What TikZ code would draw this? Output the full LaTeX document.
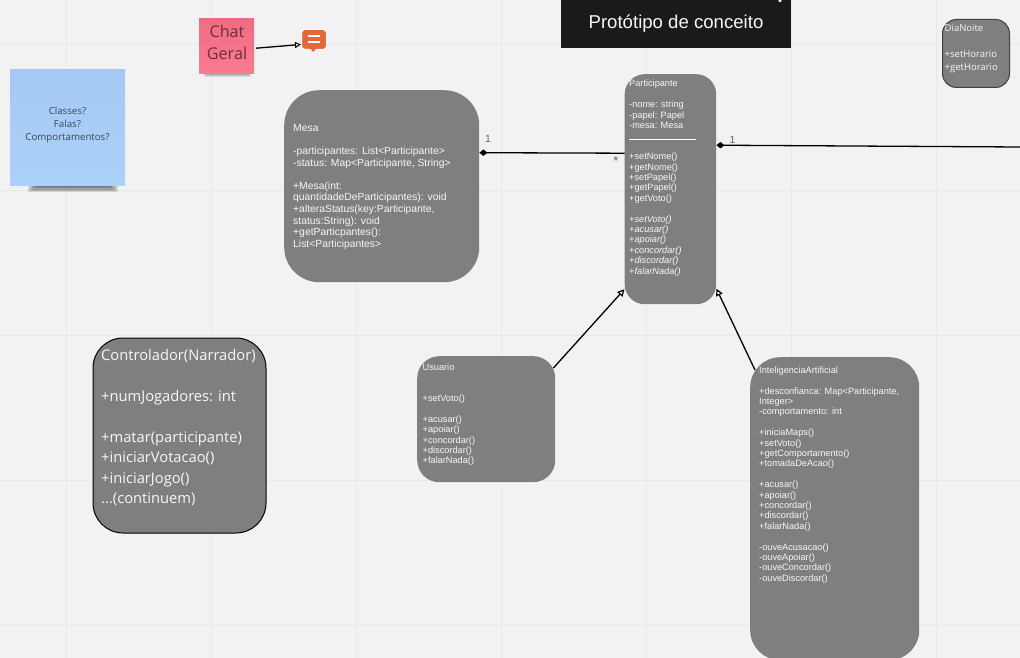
\documentclass[tikz,border=0pt]{standalone}
\usepackage{fontspec}
\setmainfont{Liberation Sans}
\newfontfamily\opensans{Open Sans}
\usetikzlibrary{arrows.meta}
\definecolor{bgc}{HTML}{F2F2F2}
\definecolor{gridc}{HTML}{E8E8E8}
\definecolor{boxc}{HTML}{7F7F7F}
\definecolor{txtc}{HTML}{F7F7F7}
\definecolor{titlec}{HTML}{1A1A1A}
\definecolor{orangec}{HTML}{E5673C}
\definecolor{bluetop}{HTML}{A4CAF4}
\definecolor{bluebot}{HTML}{ACD1F9}
\definecolor{pinktop}{HTML}{EE6C84}
\definecolor{pinkbot}{HTML}{FB7B91}
\definecolor{bluetxt}{HTML}{3A4656}
\definecolor{pinktxt}{HTML}{6E2E3C}
\tikzset{
  x=1pt,y=-1pt,
  umlbox/.style={draw=none,fill=boxc,anchor=north west,inner sep=0pt},
  umltext/.style={anchor=north west,inner sep=0pt,align=left,text=txtc,font=\fontsize{9.2}{10.4}\selectfont},
  mesatext/.style={umltext,font=\fontsize{10.35}{11.6}\selectfont},
  conn/.style={draw=black,line width=1.3pt},
  mult/.style={inner sep=0pt,text=black!60,font=\fontsize{10.5}{12}\selectfont},
  inherit/.style={conn,-{Triangle[fill=white,length=7pt,width=7pt,line width=1.2pt]}},
  assoc/.style={conn,{Diamond[length=8pt,width=6.5pt]}-},
  grid line/.style={draw=gridc,line width=1pt},
}
\begin{document}
\begin{tikzpicture}
\path[use as bounding box,clip] (0,0) rectangle (1020,658);
\fill[bgc] (0,0) rectangle (1020,658);
\foreach \gx in {66,211,356,501,646,791,936} \draw[grid line] (\gx,0) -- (\gx,658);
\foreach \gy in {45,190,335,480,625} \draw[grid line] (0,\gy) -- (1020,\gy);

% title
\node[fill=titlec,anchor=north west,minimum width=230pt,minimum height=48pt,inner sep=0pt] (title) at (561,0) {};
\node[text=txtc,inner sep=0pt,font=\fontsize{18.6}{20}\selectfont] (titletext) at (676,23.5) {Protótipo de conceito};
\fill[white] (780,0) ellipse (1.6 and 2.2);

% sticky shadows
\foreach \k in {0,1,...,5} {
  \fill[black,opacity=0.13] (28+2*\k,182) rectangle (118-2*\k,192-\k*1.2);
  \fill[black,opacity=0.10] (204+\k,70) rectangle (251-\k,77-\k);
}
% blue sticky
\node[anchor=north west,minimum width=115pt,minimum height=116pt,inner sep=0pt,top color=bluetop,bottom color=bluebot] (blue) at (10,69) {};
\node[inner sep=0pt,align=center,text=bluetxt,font=\opensans\fontsize{9.7}{13.4}\selectfont] (bluetext) at (67.5,125) {Classes?\\Falas?\\Comportamentos?};

% pink sticky
\node[anchor=north west,minimum width=55pt,minimum height=55pt,inner sep=0pt,top color=pinktop,bottom color=pinkbot] (chat) at (199,18) {};
\node[inner sep=0pt,align=center,text=pinktxt,font=\opensans\fontsize{16.2}{22}\selectfont] (chattext) at (227,42.5) {Chat\\Geral};

% icon
\node[anchor=north west,fill=orangec,draw=white,line width=1pt,rounded corners=3.5pt,minimum width=25pt,minimum height=20pt,inner sep=0pt] (icon) at (301,29) {};
\fill[orangec] (310,48) -- (316.5,48) -- (313.2,52) -- cycle;
\draw[white,line width=1.6pt] (307.5,36) -- (319.5,36);
\draw[white,line width=1.6pt] (307.5,42) -- (319.5,42);

% boxes
\node[umlbox,rounded corners=35pt,minimum width=195pt,minimum height=192pt] (mesa) at (284,90) {};
\node[umlbox,rounded corners=20pt,minimum width=91.5pt,minimum height=230pt] (part) at (624.5,74) {};
\node[umlbox,rounded corners=22pt,minimum width=138pt,minimum height=126pt] (usu) at (417,356) {};
\node[umlbox,rounded corners=30pt,minimum width=169pt,minimum height=303pt] (ia) at (750,357) {};
\node[umlbox,draw=black,line width=1pt,rounded corners=30pt,minimum width=173pt,minimum height=195pt] (ctrl) at (92.5,337.5) {};
\node[umlbox,draw=black!75,line width=1pt,rounded corners=14pt,minimum width=67pt,minimum height=68pt] (dia) at (942,19) {};

% texts
\node[mesatext] (mesatxt) at (293,124) {Mesa\\ \mbox{}\\-participantes: List<Participante>\\-status: Map<Participante, String>\\ \mbox{}\\+Mesa(int:\\quantidadeDeParticipantes): void\\+alteraStatus(key:Participante,\\status:String): void\\+getParticpantes():\\List<Participantes>};
\node[umltext] (parttxt) at (629,80) {Participante\\ \mbox{}\\-nome: string\\-papel: Papel\\-mesa: Mesa\\ \mbox{}\\ \mbox{}\\+setNome()\\+getNome()\\+setPapel()\\+getPapel()\\+getVoto()\\ \mbox{}\\\textit{+setVoto()}\\\textit{+acusar()}\\\textit{+apoiar()}\\\textit{+concordar()}\\\textit{+discordar()}\\\textit{+falarNada()}};
\draw[white,line width=0.9pt] ([shift={(4.5pt,-65.5pt)}]part.north west) -- ([shift={(71.5pt,-65.5pt)}]part.north west);
\node[umltext] (usutxt) at (422.5,363.5) {Usuario\\ \mbox{}\\ \mbox{}\\+setVoto()\\ \mbox{}\\+acusar()\\+apoiar()\\+concordar()\\+discordar()\\+falarNada()};
\node[umltext] (iatxt) at (759,366.5) {InteligenciaArtificial\\ \mbox{}\\+desconfianca: Map<Participante,\\Integer>\\-comportamento: int\\ \mbox{}\\+iniciaMaps()\\+setVoto()\\+getComportamento()\\+tomadaDeAcao()\\ \mbox{}\\+acusar()\\+apoiar()\\+concordar()\\+discordar()\\+falarNada()\\ \mbox{}\\-ouveAcusacao()\\-ouveApoiar()\\-ouveConcordar()\\-ouveDiscordar()};
\node[umltext,font=\opensans\fontsize{14.7}{20.4}\selectfont] (ctrltxt) at (101,349.5) {Controlador(Narrador)\\ \mbox{}\\+numJogadores: int\\ \mbox{}\\+matar(participante)\\+iniciarVotacao()\\+iniciarJogo()\\...(continuem)};
\node[umltext,font=\opensans\fontsize{9.5}{13}\selectfont] (diatxt) at (944.5,24) {DiaNoite\\ \mbox{}\\+setHorario\\+getHorario};

% connectors
\coordinate (rightend) at (1020,147);
\draw[conn,-{Triangle[fill=white,length=6pt,width=6pt,line width=1pt]}] ([yshift=-2.5pt]chat.east) ++(1.5pt,0) -- ([yshift=-5pt]icon.west);
\draw[assoc] ([yshift=33.5pt]mesa.east) -- ([yshift=36pt]part.west);
\draw[assoc] ([yshift=44pt]part.east) -- (rightend);
\draw[inherit] ([shift={(-2pt,-12pt)}]usu.north east) -- ([yshift=-100pt]part.west);
\draw[inherit] ([shift={(5pt,-13pt)}]ia.north west) -- ([yshift=-99.5pt]part.east);

% multiplicities
\node[mult] (m1) at (488,139) {1};
\node[mult,font=\fontsize{13}{14}\selectfont] (m2) at (616,161) {*};
\node[mult] (m3) at (732.5,139.5) {1};
\end{tikzpicture}
\end{document}
